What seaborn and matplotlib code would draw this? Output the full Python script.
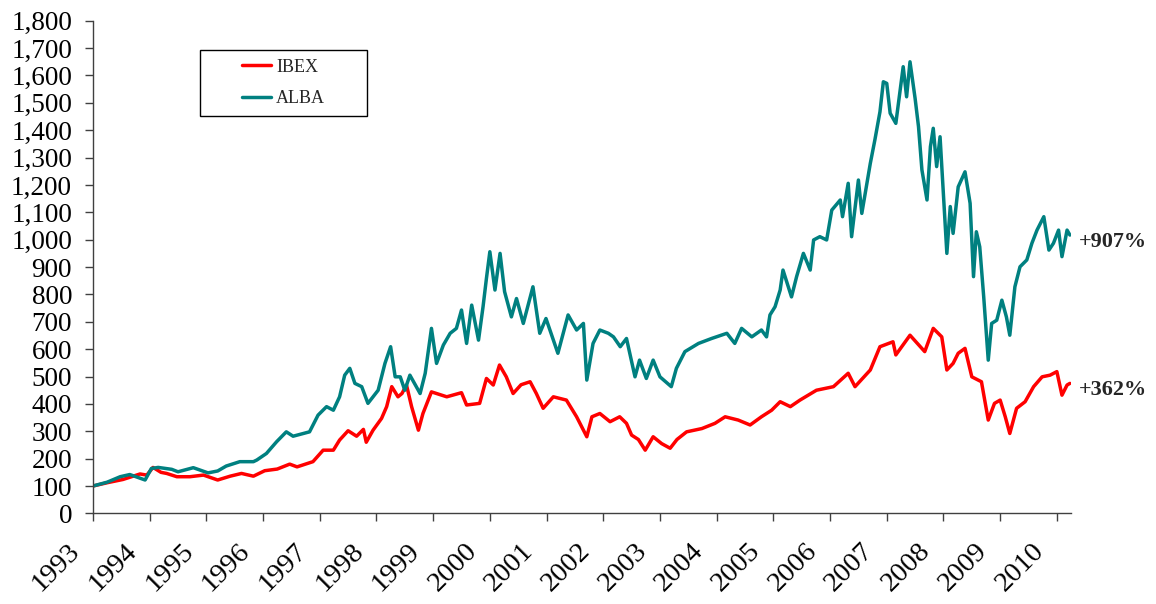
import pandas as pd
import seaborn as sns
import matplotlib.pyplot as plt
from matplotlib.patches import Rectangle
from matplotlib.transforms import ScaledTranslation
from matplotlib.ticker import FuncFormatter, MultipleLocator

# IBEX, base 100 = start of 1993
ibex_year = [1993.00, 1993.25, 1993.53, 1993.83, 1993.95, 1994.06, 1994.20, 1994.30, 1994.48, 1994.71,
             1994.95, 1995.20, 1995.42, 1995.62, 1995.83, 1996.03, 1996.25, 1996.47, 1996.60, 1996.88,
             1997.06, 1997.24, 1997.35, 1997.50, 1997.65, 1997.77, 1997.82, 1997.94, 1998.09, 1998.18,
             1998.27, 1998.38, 1998.45, 1998.53, 1998.62, 1998.74, 1998.82, 1998.97, 1999.24, 1999.50,
             1999.59, 1999.82, 1999.94, 2000.06, 2000.17, 2000.29, 2000.41, 2000.55, 2000.71, 2000.82,
             2000.94, 2001.12, 2001.35, 2001.53, 2001.71, 2001.80, 2001.94, 2002.12, 2002.29, 2002.41,
             2002.50, 2002.62, 2002.74, 2002.88, 2003.03, 2003.18, 2003.30, 2003.47, 2003.74, 2003.97,
             2004.15, 2004.38, 2004.59, 2004.79, 2004.97, 2005.12, 2005.30, 2005.47, 2005.76, 2006.06,
             2006.32, 2006.44, 2006.71, 2006.88, 2007.11, 2007.16, 2007.41, 2007.67, 2007.82, 2007.97,
             2008.06, 2008.17, 2008.26, 2008.38, 2008.50, 2008.67, 2008.79, 2008.90, 2009.00, 2009.09,
             2009.17, 2009.29, 2009.44, 2009.59, 2009.74, 2009.88, 2010.00, 2010.09, 2010.18, 2010.23]
ibex_value = [100, 112, 124, 144, 140, 168, 150, 146, 134, 134,
              140, 122, 136, 146, 136, 156, 162, 180, 170, 189,
              231, 231, 268, 302, 282, 307, 260, 304, 347, 390,
              463, 426, 438, 469, 390, 304, 365, 444, 426, 441,
              396, 402, 493, 469, 542, 499, 438, 470, 481, 438,
              384, 426, 414, 353, 280, 353, 365, 335, 353, 329,
              286, 270, 231, 280, 255, 238, 270, 298, 310, 329,
              353, 341, 323, 353, 377, 408, 390, 414, 450, 463,
              512, 463, 524, 609, 627, 579, 651, 591, 676, 645,
              524, 548, 585, 603, 499, 481, 341, 402, 414, 353,
              292, 384, 408, 463, 499, 505, 518, 432, 469, 475]

# ALBA, base 100 = start of 1993
alba_year = [1993.00, 1993.25, 1993.48, 1993.65, 1993.92, 1994.03, 1994.15, 1994.39, 1994.50, 1994.77,
             1995.03, 1995.20, 1995.35, 1995.59, 1995.83, 1995.89, 1996.06, 1996.24, 1996.41, 1996.53,
             1996.82, 1996.97, 1997.12, 1997.24, 1997.35, 1997.44, 1997.53, 1997.62, 1997.74, 1997.85,
             1998.03, 1998.15, 1998.25, 1998.33, 1998.42, 1998.50, 1998.59, 1998.77, 1998.86, 1998.97,
             1999.06, 1999.18, 1999.30, 1999.41, 1999.50, 1999.59, 1999.68, 1999.80, 1999.88, 1999.94,
             2000.00, 2000.09, 2000.18, 2000.26, 2000.38, 2000.47, 2000.59, 2000.76, 2000.88, 2000.99,
             2001.20, 2001.38, 2001.53, 2001.65, 2001.71, 2001.82, 2001.94, 2002.09, 2002.18, 2002.30,
             2002.41, 2002.56, 2002.64, 2002.76, 2002.88, 2003.00, 2003.20, 2003.29, 2003.44, 2003.68,
             2003.91, 2004.18, 2004.32, 2004.44, 2004.62, 2004.79, 2004.88, 2004.94, 2005.03, 2005.12,
             2005.17, 2005.32, 2005.41, 2005.53, 2005.65, 2005.71, 2005.82, 2005.94, 2006.03, 2006.18,
             2006.22, 2006.32, 2006.38, 2006.50, 2006.56, 2006.64, 2006.71, 2006.79, 2006.88, 2006.94,
             2007.00, 2007.06, 2007.16, 2007.29, 2007.35, 2007.41, 2007.50, 2007.56, 2007.62, 2007.71,
             2007.77, 2007.82, 2007.88, 2007.94, 2008.06, 2008.12, 2008.17, 2008.26, 2008.38, 2008.47,
             2008.53, 2008.58, 2008.64, 2008.71, 2008.79, 2008.85, 2008.94, 2009.03, 2009.11, 2009.17,
             2009.26, 2009.35, 2009.47, 2009.56, 2009.65, 2009.77, 2009.86, 2009.94, 2010.03, 2010.09,
             2010.18, 2010.23]
alba_value = [100, 114, 134, 142, 122, 164, 168, 161, 152, 167,
              148, 155, 173, 189, 189, 195, 219, 262, 298, 282,
              298, 359, 390, 377, 426, 505, 530, 475, 463, 402,
              450, 548, 609, 499, 499, 450, 505, 438, 512, 676,
              548, 615, 658, 676, 743, 621, 761, 633, 755, 859,
              956, 816, 950, 810, 718, 785, 694, 828, 658, 712,
              585, 725, 670, 694, 487, 621, 670, 658, 645, 609,
              639, 499, 560, 493, 560, 499, 463, 530, 591, 621,
              639, 658, 621, 676, 645, 670, 645, 725, 755, 816,
              889, 791, 865, 950, 889, 999, 1011, 999, 1108, 1145,
              1084, 1206, 1011, 1218, 1096, 1193, 1279, 1364, 1467, 1577,
              1571, 1462, 1425, 1632, 1522, 1650, 1516, 1413, 1255, 1145,
              1340, 1407, 1267, 1376, 950, 1121, 1023, 1193, 1248, 1133,
              865, 1029, 974, 791, 560, 694, 706, 779, 718, 651,
              828, 901, 926, 987, 1035, 1084, 962, 987, 1035, 938,
              1035, 1017]

year_labels = [str(y) for y in range(1993, 2011)]
end_labels = ["+362%", "+907%"]
end_values = [450, 992]

df = pd.concat([
    pd.DataFrame({"year": ibex_year, "value": ibex_value, "series": "IBEX"}),
    pd.DataFrame({"year": alba_year, "value": alba_value, "series": "ALBA"}),
])

sns.set_style("white")
plt.rcParams["font.family"] = ["Liberation Serif", "DejaVu Serif"]

fig = plt.figure(figsize=(11.56, 6.04), dpi=100)
ax = fig.add_axes([0.0804, 0.150, 0.8461, 0.8157])

sns.lineplot(data=df, x="year", y="value", hue="series", hue_order=["IBEX", "ALBA"],
             palette={"IBEX": "#FF0000", "ALBA": "#008080"}, estimator=None, sort=True,
             linewidth=2.5, ax=ax)

ax.set_xlim(1993, 2010.25)
ax.set_ylim(0, 1800)
ax.yaxis.set_major_locator(MultipleLocator(100))
ax.yaxis.set_major_formatter(FuncFormatter(lambda v, p: f"{int(v):,}"))
ax.set_xticks(range(1993, 2011))
ax.set_xticklabels(year_labels, rotation=45, ha="right")
ax.set_xlabel("")
ax.set_ylabel("")

for s in ["top", "right"]:
    ax.spines[s].set_visible(False)
for s in ["left", "bottom"]:
    ax.spines[s].set_color("#404040")
    ax.spines[s].set_linewidth(1.0)
ax.tick_params(axis="both", which="major", direction="out", length=6, width=1,
               color="#404040", labelcolor="black", bottom=True, left=True)
ax.tick_params(axis="x", pad=12, labelsize=20.5)
ax.tick_params(axis="y", pad=9, labelsize=19.5)
shift = ScaledTranslation(-0.08, 0, fig.dpi_scale_trans)
for lab in ax.get_xticklabels():
    lab.set_transform(lab.get_transform() + shift)

for lab, val in zip(end_labels, end_values):
    ax.text(2010.39, val, lab, fontsize=16, fontweight="bold", va="center", ha="left",
            clip_on=False)

handles, labels = ax.get_legend_handles_labels()
leg = ax.legend(handles, labels, loc="center", bbox_to_anchor=(0.1946, 0.8738),
                frameon=False, fontsize=13, handlelength=1.65, handletextpad=0.25,
                labelspacing=0.8)
for h in leg.get_lines():
    h.set_linewidth(2.5)
ax.add_patch(Rectangle((0.1094, 0.807), 0.1706, 0.1334, transform=ax.transAxes,
                       fill=False, edgecolor="black", linewidth=1.0, clip_on=False))

fig.savefig("out.png", dpi=100)
